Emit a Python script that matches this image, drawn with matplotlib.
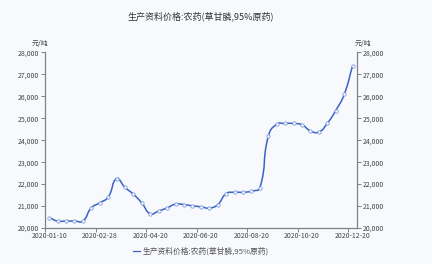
import numpy as np
import matplotlib
matplotlib.use("Agg")
import matplotlib.pyplot as plt
from matplotlib.path import Path
from matplotlib.patches import PathPatch

plt.rcParams['font.family'] = ['Noto Sans CJK SC', 'DejaVu Sans']

# 数据
dates = ["2020-01-10", "2020-01-15", "2020-01-20", "2020-01-31", "2020-02-10", "2020-02-20",
         "2020-02-28", "2020-03-10", "2020-03-15", "2020-03-20", "2020-03-31", "2020-04-10",
         "2020-04-20", "2020-04-30", "2020-05-10", "2020-05-20", "2020-05-31", "2020-06-10",
         "2020-06-20", "2020-06-30", "2020-07-10", "2020-07-20", "2020-07-31", "2020-08-10",
         "2020-08-20", "2020-08-31", "2020-09-10", "2020-09-20", "2020-09-30", "2020-10-10",
         "2020-10-20", "2020-10-31", "2020-11-10", "2020-11-20", "2020-11-30", "2020-12-10",
         "2020-12-20"]
prices = [20480, 20320, 20320, 20320, 20320, 20920, 21150, 21410, 22250, 21850,
          21540, 21140, 20650, 20780, 20920, 21090, 21070, 21010, 20970, 20910,
          21070, 21570, 21630, 21630, 21680, 21840, 24180, 24730, 24760, 24760,
          24700, 24420, 24370, 24770, 25350, 26080, 27390]
y_ticks = [20000, 21000, 22000, 23000, 24000, 25000, 26000, 27000, 28000]
label_every = 6

titulo = "生产资料价格:农药(草甘膦,95%原药)"
unidade = "元/吨"

bg = "#f7f9fc"
linha_cor = "#3a63c6"
texto_cor = "#444444"
eixo_cor = "#808080"

fig = plt.figure(figsize=(4.32, 2.64), dpi=100, facecolor=bg)
ax = fig.add_axes([0.104, 0.136, 0.722, 0.666], facecolor=bg)

x = np.arange(len(prices))
ax.set_xlim(-0.5, len(prices) - 0.5)
ax.set_ylim(y_ticks[0], y_ticks[-1])

# linha suavizada (tipo echarts, smooth=0.5) calculada em coordenadas de tela
pts = ax.transData.transform(np.column_stack([x, prices]))
smooth = 0.5
verts = [pts[0]]
codes = [Path.MOVETO]
n = len(pts)
for i in range(n - 1):
    p0 = pts[i - 1] if i > 0 else pts[i]
    p1 = pts[i]
    p2 = pts[i + 1]
    p3 = pts[i + 2] if i + 2 < n else pts[i + 1]
    d01 = np.hypot(*(p1 - p0)); d12 = np.hypot(*(p2 - p1)); d23 = np.hypot(*(p3 - p2))
    r1 = d12 / (d01 + d12) if (d01 + d12) > 0 else 0
    r2 = d12 / (d12 + d23) if (d12 + d23) > 0 else 0
    c1 = p1 + (p2 - p0) * smooth * r1
    c2 = p2 - (p3 - p1) * smooth * r2
    verts += [c1, c2, p2]
    codes += [Path.CURVE4] * 3
verts = ax.transData.inverted().transform(np.array(verts))
ax.add_patch(PathPatch(Path(verts, codes), fill=False, edgecolor=linha_cor, lw=1.1, zorder=3))
ax.plot(x, prices, linestyle='none', marker='o', markersize=2.4, markerfacecolor='white',
        markeredgecolor='#7d9ad8', markeredgewidth=0.6, zorder=4)

# eixo x
ax.set_xticks(np.arange(0, len(prices), label_every) - 0.5)
ax.set_xticklabels([])
ax.set_xticks(np.arange(0, len(prices), label_every), minor=True)
ax.set_xticklabels([dates[i] for i in range(0, len(prices), label_every)], minor=True)
ax.tick_params(axis='x', which='major', length=3, width=0.7, color=eixo_cor)
ax.tick_params(axis='x', which='minor', length=0, labelsize=5, labelcolor=texto_cor, pad=2.5)

# eixo y esquerdo e direito
ax.set_yticks(y_ticks)
ax.set_yticklabels([f"{v:,}" for v in y_ticks])
ax.tick_params(axis='y', length=3, width=0.7, color=eixo_cor, labelsize=5, labelcolor=texto_cor, pad=1.5)
ax2 = ax.twinx()
ax2.set_ylim(y_ticks[0], y_ticks[-1])
ax2.set_yticks(y_ticks)
ax2.set_yticklabels([f"{v:,}" for v in y_ticks])
ax2.tick_params(axis='y', length=3, width=0.7, color=eixo_cor, labelsize=5, labelcolor=texto_cor, pad=1.5)

for a in (ax, ax2):
    a.spines['top'].set_visible(False)
    for s in ('left', 'right', 'bottom'):
        a.spines[s].set_color(eixo_cor)
        a.spines[s].set_linewidth(0.8)

# textos
fig.text(0.465, 0.938, titulo, ha='center', va='center', fontsize=6.5, color='#333333')
fig.text(0.093, 0.835, unidade, ha='center', va='center', fontsize=5, color=texto_cor)
fig.text(0.84, 0.835, unidade, ha='center', va='center', fontsize=5, color=texto_cor)

# legenda
fig.lines.append(plt.Line2D([0.308, 0.325], [0.049, 0.049], transform=fig.transFigure,
                            color=linha_cor, lw=0.9))
fig.text(0.331, 0.049, titulo, ha='left', va='center', fontsize=5.6, color='#555555')

fig.savefig("out.png", dpi=100, facecolor=bg)
